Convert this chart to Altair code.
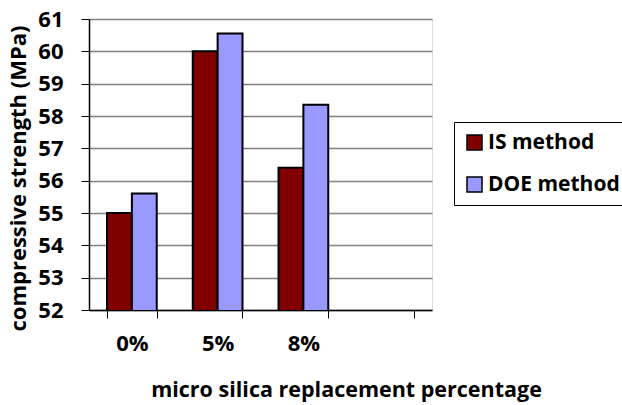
import altair as alt
import pandas as pd

# Compressive strength by micro silica replacement level, two mix-design methods
categories = ["0%", "5%", "8%"]
is_method = [55.0, 60.0, 56.4]
doe_method = [55.6, 60.55, 58.35]
series = ["IS method", "DOE method"]
colors = ["#800000", "#9999FF"]

# an empty trailing slot on the category axis
x_domain = categories + [" "]

rows = []
for cat, a, b in zip(categories, is_method, doe_method):
    rows.append({"pct": cat, "method": series[0], "strength": a})
    rows.append({"pct": cat, "method": series[1], "strength": b})
df = pd.DataFrame(rows)

FONT = "Open Sans"
WEIGHT = "bold"

bars = alt.Chart(df).mark_bar(stroke="black", strokeWidth=2, clip=True).encode(
    x=alt.X(
        "pct:N",
        scale=alt.Scale(domain=x_domain, paddingInner=0.42, paddingOuter=0.21),
        axis=alt.Axis(
            title="micro silica replacement percentage",
            labelAngle=0,
            tickBand="extent",
            tickSize=8,
            tickColor="black",
            domainColor="black",
            domainWidth=1.5,
            labelPadding=15,
            labelFontSize=22,
            labelFontWeight=WEIGHT,
            labelFont=FONT,
            labelColor="black",
            titleFontSize=21.5,
            titleFontWeight=WEIGHT,
            titleFont=FONT,
            titleColor="black",
            titleX=257,
            titleY=80,
            titleAlign="center",
            titleBaseline="middle",
        ),
    ),
    xOffset=alt.XOffset("method:N", sort=series),
    y=alt.Y(
        "strength:Q",
        scale=alt.Scale(domain=[52, 61], nice=False, zero=False),
        axis=alt.Axis(
            title="compressive strength (MPa)",
            values=list(range(52, 62)),
            tickSize=8,
            tickColor="black",
            domainColor="black",
            domainWidth=1.5,
            labelPadding=18,
            labelFontSize=22,
            labelFontWeight=WEIGHT,
            labelFont=FONT,
            labelColor="black",
            titleFontSize=22,
            titleFontWeight=WEIGHT,
            titleFont=FONT,
            titleColor="black",
            titleAngle=270,
            titleX=-71,
            titleY=159,
            titleAlign="center",
            titleBaseline="middle",
            grid=True,
            gridColor="#808080",
            gridWidth=1.5,
        ),
    ),
    color=alt.Color(
        "method:N",
        sort=series,
        scale=alt.Scale(domain=series, range=colors),
        legend=alt.Legend(
            title=None,
            orient="none",
            legendX=365,
            legendY=103,
            symbolType="square",
            symbolSize=225,
            symbolStrokeColor="black",
            symbolStrokeWidth=1.5,
            labelFontSize=21,
            labelFontWeight=WEIGHT,
            labelFont=FONT,
            labelColor="black",
            labelOffset=3,
            rowPadding=20,
            padding=10,
            strokeColor="black",
            fillColor="white",
        ),
    ),
)

chart = bars.properties(
    width=343,
    height=291,
    autosize=alt.AutoSizeParams(type="none"),
    padding={"left": 89, "top": 19, "right": 190, "bottom": 95},
).configure_view(
    stroke="#A0A0A0", strokeWidth=3
).configure(background="white")

chart.save("out.html", embed_options={"renderer": "svg", "actions": False})
